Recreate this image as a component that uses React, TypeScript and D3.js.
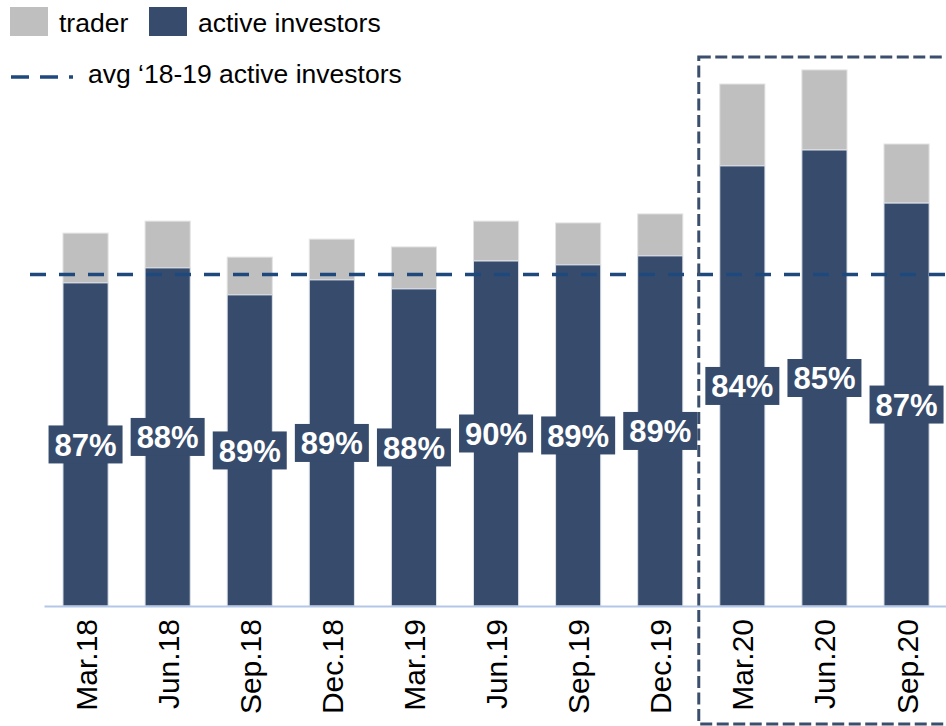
import React from "react";
import * as d3 from "d3";

const categories = ["Mar.18","Jun.18","Sep.18","Dec.18","Mar.19","Jun.19","Sep.19","Dec.19","Mar.20","Jun.20","Sep.20"];
const activeInvestors = [107.7,112.7,103.7,108.7,105.7,115.0,113.7,116.7,146.7,152.0,134.3];
const traders = [16.6,15.6,12.6,13.6,14.0,13.3,14.0,14.0,27.3,26.7,19.7];
const shareLabels = ["87%","88%","89%","89%","88%","90%","89%","89%","84%","85%","87%"];
const avgPeriod = ["Mar.18","Jun.18","Sep.18","Dec.18","Mar.19","Jun.19","Sep.19","Dec.19"];
const highlighted = ["Mar.20","Jun.20","Sep.20"];

const W = 946, H = 726;
const DARK = "#374c6c";
const GRAY = "#bfbfbf";
const FONT = "'Liberation Sans', Arial, sans-serif";

export default function App() {
  const x = d3.scaleBand<string>().domain(categories).range([44.5, 947.6]).paddingInner(0.45).paddingOuter(0.225);
  const y = d3.scaleLinear().domain([0, 180]).range([606, 66]);
  const avg = d3.mean(categories.map((c, i) => (avgPeriod.includes(c) ? activeInvestors[i] : NaN)).filter(v => !isNaN(v))) as number;
  const stacked = categories.map((c, i) => ({ c, a: activeInvestors[i], t: traders[i], label: shareLabels[i] }));
  const bw = x.bandwidth();
  const hx0 = (x(highlighted[0]) as number) - 21;

  return (
    <svg width={W} height={H} style={{ position: "absolute", left: 0, top: 0, fontFamily: FONT }}>
      <rect width={W} height={H} fill="#fff" />
      {/* legend */}
      <rect x={10} y={7} width={38} height={29} fill={GRAY} />
      <text x={59} y={32} fontSize={26.5} fill="#000">trader</text>
      <rect x={149} y={7} width={38} height={29} fill={DARK} />
      <text x={198} y={32} fontSize={26.5} fill="#000">active investors</text>
      <line x1={11} x2={76} y1={77} y2={77} stroke="#1f497d" strokeWidth={3.5} strokeDasharray="18 11 18 11 4 100" />
      <text x={88} y={83} fontSize={26.5} fill="#000">avg ‘18-19 active investors</text>

      {/* bars */}
      {stacked.map(d => {
        const bx = x(d.c) as number;
        return (
          <g key={d.c}>
            <rect x={bx} y={y(d.a + d.t)} width={bw} height={y(d.a) - y(d.a + d.t)} fill={GRAY} stroke="#e4e4e4" strokeWidth={1} />
            <rect x={bx} y={y(d.a)} width={bw} height={y(0) - y(d.a)} fill={DARK} stroke="#dde2ea" strokeWidth={1} />
          </g>
        );
      })}

      {/* axis line */}
      <line x1={44.5} x2={W} y1={y(0) + 0.5} y2={y(0) + 0.5} stroke="#b4c7e7" strokeWidth={2} />

      {/* avg line */}
      <line x1={30} x2={W} y1={y(avg)} y2={y(avg)} stroke="#1f497d" strokeWidth={3.5} strokeDasharray="16 13" />

      {/* share labels */}
      {stacked.map(d => {
        const cx = (x(d.c) as number) + bw / 2;
        const cy = (y(d.a) + y(0)) / 2;
        return (
          <g key={"l" + d.c}>
            <rect x={cx - 37} y={cy - 19} width={74} height={38} fill={DARK} />
            <text x={cx} y={cy} dy="0.36em" textAnchor="middle" fontSize={31} fontWeight="bold" fill="#fff">{d.label}</text>
          </g>
        );
      })}

      {/* tick labels */}
      {categories.map(c => {
        const cx = (x(c) as number) + bw / 2;
        return (
          <text key={"t" + c} transform={`translate(${cx + 11},619) rotate(-90)`} textAnchor="end" fontSize={30} fill="#000">{c}</text>
        );
      })}

      {/* highlight box */}
      <rect x={hx0} y={57} width={W - hx0 + 20} height={667} fill="none" stroke="#3b4f6d" strokeWidth={3} strokeDasharray="12 4.5" />
    </svg>
  );
}
